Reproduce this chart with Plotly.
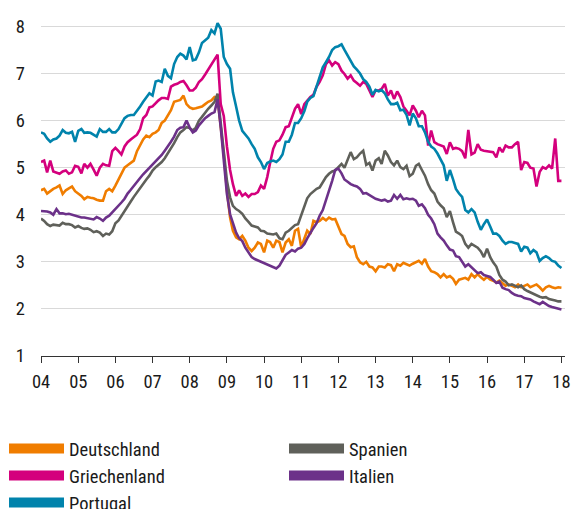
import pandas as pd
import plotly.graph_objects as go

# Monthly observations, Jan 2004 .. Jan 2018
months = pd.date_range("2004-01-01", "2018-01-01", freq="MS")

deutschland = [
    4.52, 4.55, 4.45, 4.50, 4.55, 4.58, 4.62, 4.44, 4.52, 4.56, 4.60, 4.50,
    4.45, 4.40, 4.33, 4.38, 4.36, 4.35, 4.32, 4.30, 4.30, 4.50, 4.55, 4.50,
    4.62, 4.75, 4.90, 5.00, 5.05, 5.10, 5.15, 5.35, 5.48, 5.60, 5.68, 5.65,
    5.72, 5.75, 5.80, 5.95, 6.00, 6.10, 6.22, 6.40, 6.42, 6.44, 6.53, 6.35,
    6.28, 6.25, 6.26, 6.28, 6.30, 6.35, 6.40, 6.43, 6.50, 6.48, 5.86, 5.29,
    4.51, 3.94, 3.66, 3.52, 3.48, 3.55, 3.45, 3.30, 3.23, 3.30, 3.41, 3.38,
    3.20, 3.45, 3.42, 3.30, 3.45, 3.42, 3.20, 3.41, 3.48, 3.34, 3.66, 3.70,
    3.31, 3.52, 3.66, 3.59, 3.87, 3.84, 3.87, 3.93, 3.88, 3.94, 3.90, 3.91,
    3.75, 3.59, 3.55, 3.38, 3.31, 3.33, 3.10, 2.99, 2.95, 3.00, 2.90, 2.88,
    2.80, 2.90, 2.90, 2.88, 2.95, 2.93, 2.80, 2.95, 2.92, 2.98, 2.95, 2.92,
    2.96, 3.00, 3.02, 2.96, 3.06, 2.90, 2.80, 2.78, 2.74, 2.67, 2.74, 2.67,
    2.70, 2.64, 2.53, 2.62, 2.64, 2.66, 2.62, 2.74, 2.67, 2.74, 2.67, 2.62,
    2.68, 2.62, 2.60, 2.56, 2.60, 2.55, 2.49, 2.52, 2.49, 2.46, 2.52, 2.46,
    2.49, 2.52, 2.46, 2.49, 2.52, 2.46, 2.39, 2.46, 2.49, 2.46, 2.44, 2.46,
    2.45,
]

griechenland = [
    5.12, 5.15, 4.90, 5.15, 4.92, 4.90, 4.87, 4.92, 4.94, 4.87, 4.90, 5.04,
    5.02, 4.88, 5.08, 5.00, 5.08, 4.96, 4.83, 5.00, 5.08, 5.05, 5.04, 5.35,
    5.42, 5.35, 5.28, 5.45, 5.54, 5.60, 5.65, 5.70, 5.82, 6.05, 6.12, 6.28,
    6.30, 6.38, 6.43, 6.48, 6.48, 6.46, 6.72, 6.76, 6.78, 6.82, 6.84, 6.75,
    6.64, 6.64, 6.70, 6.82, 6.88, 6.98, 7.08, 7.18, 7.28, 7.40, 6.35, 6.10,
    5.45, 4.95, 4.65, 4.40, 4.52, 4.40, 4.45, 4.38, 4.44, 4.44, 4.48, 4.62,
    4.55, 4.80, 5.10, 5.40, 5.55, 5.58, 5.70, 5.86, 5.88, 6.05, 6.25, 6.35,
    6.14, 6.35, 6.42, 6.50, 6.55, 6.72, 6.82, 6.96, 7.20, 7.28, 7.17, 7.24,
    7.20, 7.06, 6.99, 6.89, 6.96, 6.85, 6.80, 6.74, 6.82, 6.78, 6.64, 6.50,
    6.64, 6.64, 6.67, 6.78, 6.53, 6.64, 6.46, 6.62, 6.50, 6.30, 6.21, 6.11,
    6.32, 6.21, 6.07, 6.21, 6.11, 5.47, 5.79, 5.54, 5.50, 5.47, 5.45, 5.29,
    5.54, 5.40, 5.42, 5.40, 5.35, 5.20, 5.80, 5.28, 5.32, 5.50, 5.38, 5.36,
    5.35, 5.34, 5.33, 5.22, 5.43, 5.33, 5.47, 5.43, 5.43, 5.50, 5.55, 4.95,
    5.12, 5.10, 5.00, 4.98, 4.60, 4.91, 5.01, 4.98, 5.05, 4.98, 5.62, 4.72,
    4.72,
]

portugal = [
    5.75, 5.72, 5.62, 5.55, 5.60, 5.62, 5.68, 5.80, 5.74, 5.73, 5.76, 5.55,
    5.78, 5.82, 5.74, 5.75, 5.74, 5.70, 5.66, 5.82, 5.76, 5.76, 5.82, 5.75,
    5.75, 5.82, 5.92, 6.05, 6.10, 6.12, 6.12, 6.20, 6.30, 6.40, 6.50, 6.58,
    6.53, 6.83, 6.85, 6.82, 7.10, 6.95, 6.90, 7.20, 7.35, 7.42, 7.38, 7.30,
    7.56, 7.28, 7.30, 7.45, 7.65, 7.70, 7.76, 7.92, 7.85, 8.07, 7.95, 7.35,
    7.20, 7.10, 6.60, 6.30, 6.00, 5.78, 5.70, 5.62, 5.50, 5.40, 5.22, 5.12,
    4.97, 5.10, 5.13, 5.15, 5.12, 5.18, 5.28, 5.55, 5.55, 5.70, 5.95, 5.95,
    6.05, 6.20, 6.40, 6.48, 6.52, 6.72, 6.92, 7.13, 7.24, 7.35, 7.50, 7.56,
    7.58, 7.62, 7.50, 7.38, 7.25, 7.15, 7.08, 7.00, 6.88, 6.82, 6.72, 6.55,
    6.65, 6.62, 6.65, 6.58, 6.45, 6.35, 6.35, 6.38, 6.22, 6.23, 6.12, 5.90,
    6.15, 6.05, 5.88, 5.88, 5.75, 5.55, 5.45, 5.40, 5.30, 5.18, 5.05, 4.72,
    4.95, 4.75, 4.55, 4.45, 4.38, 4.10, 4.05, 4.12, 4.05, 3.85, 3.68, 3.80,
    3.90, 3.75, 3.60, 3.60, 3.55, 3.45, 3.38, 3.42, 3.42, 3.40, 3.38, 3.22,
    3.32, 3.30, 3.18, 3.25, 3.20, 3.02, 3.08, 3.12, 3.08, 3.02, 3.00, 2.92,
    2.87,
]

spanien = [
    3.92, 3.87, 3.80, 3.76, 3.79, 3.78, 3.77, 3.83, 3.80, 3.80, 3.78, 3.73,
    3.76, 3.72, 3.70, 3.71, 3.68, 3.63, 3.65, 3.62, 3.55, 3.60, 3.58, 3.65,
    3.82, 3.88, 3.98, 4.08, 4.18, 4.28, 4.38, 4.48, 4.56, 4.65, 4.75, 4.83,
    4.94, 5.01, 5.06, 5.12, 5.20, 5.30, 5.42, 5.52, 5.65, 5.75, 5.80, 5.86,
    5.84, 5.79, 5.85, 6.00, 6.08, 6.18, 6.25, 6.32, 6.40, 6.57, 5.93, 5.29,
    4.72, 4.37, 4.19, 4.12, 4.08, 4.02, 3.92, 3.85, 3.77, 3.75, 3.73, 3.66,
    3.65, 3.60, 3.59, 3.58, 3.60, 3.50, 3.48, 3.62, 3.66, 3.73, 3.78, 3.80,
    4.00, 4.16, 4.35, 4.44, 4.50, 4.55, 4.58, 4.70, 4.80, 4.87, 4.92, 4.94,
    5.00, 5.08, 5.00, 5.15, 5.33, 5.18, 5.22, 5.30, 5.36, 5.06, 5.10, 4.94,
    5.15, 5.20, 5.08, 5.36, 5.26, 5.12, 5.05, 5.15, 5.01, 4.97, 5.04, 4.82,
    4.87, 5.04, 5.08, 4.95, 4.83, 4.65, 4.52, 4.45, 4.28, 4.20, 4.14, 3.95,
    4.08, 3.84, 3.64, 3.60, 3.55, 3.38, 3.30, 3.38, 3.33, 3.30, 3.22, 3.10,
    3.28, 3.10, 2.99, 2.90, 2.72, 2.62, 2.58, 2.50, 2.52, 2.49, 2.46, 2.50,
    2.42, 2.38, 2.35, 2.32, 2.30, 2.26, 2.24, 2.25, 2.21, 2.20, 2.18, 2.16,
    2.16,
]

italien = [
    4.08, 4.08, 4.07, 4.05, 4.00, 4.12, 4.03, 4.03, 4.01, 4.02, 4.00, 3.99,
    3.96, 3.94, 3.94, 3.93, 3.92, 3.90, 3.95, 3.92, 3.87, 3.94, 3.98, 4.05,
    4.10, 4.18, 4.26, 4.34, 4.45, 4.53, 4.62, 4.70, 4.78, 4.86, 4.93, 5.00,
    5.06, 5.12, 5.20, 5.27, 5.36, 5.45, 5.55, 5.66, 5.80, 5.85, 5.86, 6.00,
    5.85, 5.75, 5.79, 5.90, 5.98, 6.05, 6.10, 6.15, 6.18, 6.45, 5.86, 5.15,
    4.44, 4.01, 3.80, 3.62, 3.50, 3.44, 3.30, 3.20, 3.10, 3.06, 3.03, 3.00,
    2.97, 2.95, 2.93, 2.90, 2.86, 2.92, 3.05, 3.15, 3.20, 3.25, 3.22, 3.28,
    3.30, 3.38, 3.50, 3.62, 3.72, 3.82, 3.98, 4.10, 4.30, 4.50, 4.72, 4.95,
    4.98, 4.88, 4.75, 4.70, 4.65, 4.62, 4.60, 4.55, 4.45, 4.46, 4.42, 4.38,
    4.34, 4.32, 4.30, 4.32, 4.28, 4.30, 4.42, 4.34, 4.42, 4.33, 4.35, 4.33,
    4.34, 4.30, 4.19, 4.22, 4.14, 4.00, 3.92, 3.80, 3.60, 3.52, 3.45, 3.35,
    3.26, 3.24, 3.12, 3.10, 3.00, 2.90, 2.95, 2.88, 2.82, 2.76, 2.78, 2.72,
    2.70, 2.68, 2.62, 2.55, 2.58, 2.45, 2.42, 2.40, 2.34, 2.30, 2.28, 2.27,
    2.23, 2.22, 2.20, 2.16, 2.13, 2.10, 2.15, 2.10, 2.06, 2.04, 2.02, 2.00,
    1.99,
]

y_ticks = [1, 2, 3, 4, 5, 6, 7, 8]

FONT = "Roboto Condensed, Liberation Sans Narrow, Arial Narrow, sans-serif"

series = [
    # name, values, colour, legend rank
    ("Deutschland", deutschland, "#F07D00", 1),
    ("Spanien", spanien, "#5F605A", 2),
    ("Italien", italien, "#6C3189", 4),
    ("Griechenland", griechenland, "#D4007D", 3),
    ("Portugal", portugal, "#0083AC", 5),
]

fig = go.Figure()
for name, vals, col, rank in series:
    fig.add_trace(go.Scatter(
        x=months, y=vals, mode="lines", name=name,
        line=dict(color=col, width=2.6), showlegend=False,
        hoverinfo="x+y+name",
    ))

# legend-only entries (thick swatches)
for name, vals, col, rank in series:
    fig.add_trace(go.Scatter(
        x=[None], y=[None], mode="lines", name=name,
        line=dict(color=col, width=11), showlegend=True, legendrank=rank,
    ))

fig.update_layout(
    width=572, height=509,
    margin=dict(l=41, r=7, t=17, b=153, autoexpand=False),
    plot_bgcolor="white", paper_bgcolor="white",
    font=dict(family=FONT, size=18.5, color="#1a1a1a"),
    showlegend=True,
    legend=dict(
        orientation="h", xref="paper", yref="paper",
        x=-0.0706, y=-0.218, xanchor="left", yanchor="top",
        entrywidth=210, entrywidthmode="pixels", itemwidth=55,
        font=dict(family=FONT, size=18.5, color="#1a1a1a"),
        bgcolor="rgba(0,0,0,0)", traceorder="normal",
    ),
    xaxis=dict(
        type="date", range=["2004-01-01", "2018-02-05"],
        dtick="M12", tick0="2004-01-01", tickformat="%y",
        showgrid=False, showline=True, linecolor="#333333", linewidth=1.3,
        ticks="outside", ticklen=6, tickwidth=1.3, tickcolor="#333333",
        ticklabelstandoff=3, zeroline=False, automargin=False,
        tickfont=dict(family=FONT, size=18.5, color="#1a1a1a"),
    ),
    yaxis=dict(
        range=[1, 8.2], tickvals=y_ticks, ticktext=[str(v) for v in y_ticks],
        showgrid=True, gridcolor="#D9D9D9", gridwidth=1.2,
        zeroline=False, showline=False, ticks="", ticklabelstandoff=15,
        automargin=False,
        tickfont=dict(family=FONT, size=18.5, color="#1a1a1a"),
    ),
)

fig.write_html(
    "out.html",
    config={"displayModeBar": False},
    post_script="document.body.style.margin='0';document.body.style.padding='0';",
)
